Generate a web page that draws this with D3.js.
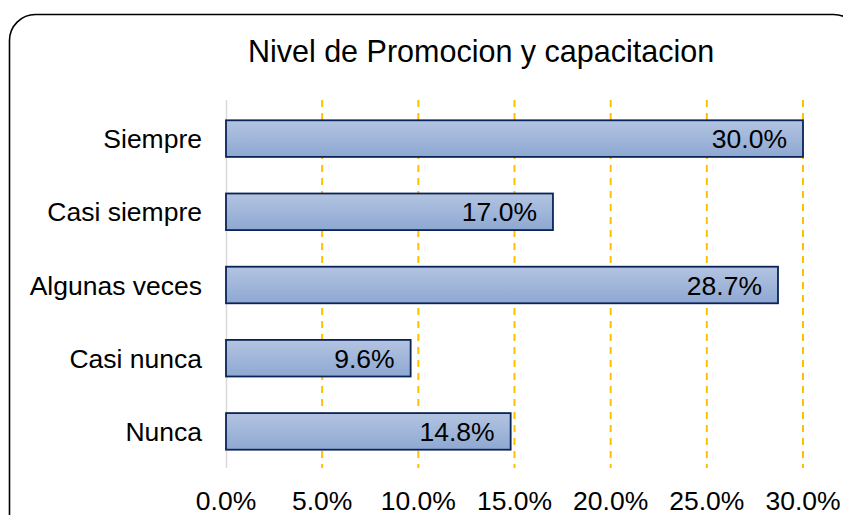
<!DOCTYPE html>
<html>
<head>
<meta charset="utf-8">
<script src="https://cdn.jsdelivr.net/npm/d3@7"></script>
<style>
  body { margin: 0; background: #fff; }
  svg { display: block; font-family: "Liberation Sans", Arial, sans-serif; }
</style>
</head>
<body>
<div id="chart"></div>
<script>
// data
const categories = ["Siempre", "Casi siempre", "Algunas veces", "Casi nunca", "Nunca"];
const values = [30.0, 17.0, 28.7, 9.6, 14.8];
const tickValues = [0, 5, 10, 15, 20, 25, 30];
const title = "Nivel de Promocion y capacitacion";

const W = 843, H = 515;
const margin = {top: 102, right: 40, bottom: 47, left: 226};
const width = 803 - margin.left, height = 468 - margin.top;

const svg = d3.select("#chart").append("svg")
    .attr("width", W)
    .attr("height", H);

// rounded frame (cut off by the window on the right and bottom)
svg.append("rect")
    .attr("x", 9.5).attr("y", 14.5)
    .attr("width", 850).attr("height", 540)
    .attr("rx", 26).attr("ry", 26)
    .attr("fill", "#fff")
    .attr("stroke", "#000")
    .attr("stroke-width", 1.6);

const defs = svg.append("defs");
const grad = defs.append("linearGradient")
    .attr("id", "barFill")
    .attr("x1", 0).attr("y1", 0).attr("x2", 0).attr("y2", 1);
grad.append("stop").attr("offset", "0%").attr("stop-color", "#b3c4e1");
grad.append("stop").attr("offset", "100%").attr("stop-color", "#8ea8d2");

// title
svg.append("text")
    .attr("x", 481).attr("y", 62)
    .attr("text-anchor", "middle")
    .style("font-size", "30.5px")
    .attr("fill", "#000")
    .text(title);

const g = svg.append("g")
    .attr("transform", "translate(" + margin.left + "," + margin.top + ")");

const x = d3.scaleLinear().domain([0, 30]).range([0, width]);
const y = d3.scaleBand().domain(categories).range([0, height]).paddingInner(0.5).paddingOuter(0.25);

// dashed gridlines
g.append("g")
    .selectAll("line")
    .data(tickValues.filter(d => d > 0))
    .enter()
    .append("line")
    .attr("x1", d => x(d)).attr("x2", d => x(d))
    .attr("y1", -2).attr("y2", height)
    .attr("stroke", "#ffc000")
    .attr("stroke-width", 2)
    .attr("stroke-dasharray", "7,6");

// category axis line
g.append("line")
    .attr("x1", 0.5).attr("x2", 0.5)
    .attr("y1", -2).attr("y2", height)
    .attr("stroke", "#d9d9d9")
    .attr("stroke-width", 1.5);

// bars
g.append("g")
    .selectAll("rect")
    .data(values)
    .enter()
    .append("rect")
    .attr("x", x(0))
    .attr("y", (d, i) => y(categories[i]))
    .attr("width", d => x(d) - x(0))
    .attr("height", y.bandwidth())
    .attr("fill", "url(#barFill)")
    .attr("stroke", "#0b2457")
    .attr("stroke-width", 1.8);

// value labels
g.append("g")
    .selectAll("text")
    .data(values)
    .enter()
    .append("text")
    .attr("x", d => x(d) - 16)
    .attr("y", (d, i) => y(categories[i]) + y.bandwidth() / 2)
    .attr("dy", "0.36em")
    .attr("text-anchor", "end")
    .style("font-size", "26.5px")
    .attr("fill", "#000")
    .text(d => d.toFixed(1) + "%");

// category labels
g.append("g")
    .selectAll("text")
    .data(categories)
    .enter()
    .append("text")
    .attr("x", -24)
    .attr("y", d => y(d) + y.bandwidth() / 2)
    .attr("dy", "0.36em")
    .attr("text-anchor", "end")
    .style("font-size", "26.5px")
    .attr("fill", "#000")
    .text(d => d);

// x tick labels
g.append("g")
    .selectAll("text")
    .data(tickValues)
    .enter()
    .append("text")
    .attr("x", d => x(d))
    .attr("y", height + 42)
    .attr("text-anchor", "middle")
    .style("font-size", "26.5px")
    .attr("fill", "#000")
    .text(d => d.toFixed(1) + "%");
</script>
</body>
</html>
